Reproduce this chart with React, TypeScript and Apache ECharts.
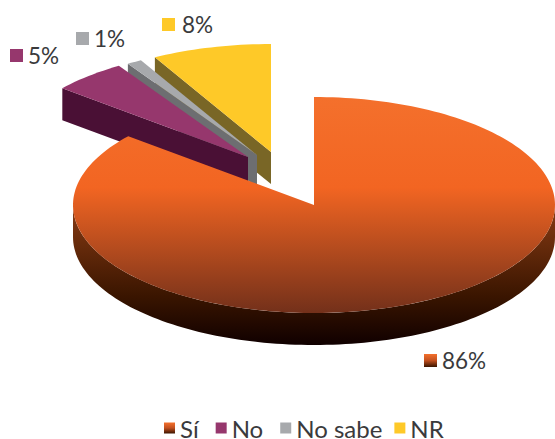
import React, { useEffect, useRef } from "react";
import * as echarts from "echarts";

const categories = ["Sí", "No", "No sabe", "NR"];
const values = [86, 5, 1, 8];
const topColors: any[] = [
  new echarts.graphic.LinearGradient(0, 0, 0, 1, [
    { offset: 0, color: "#f4702c" },
    { offset: 0.42, color: "#f26522" },
    { offset: 1, color: "#73301a" },
  ]),
  "#96376d",
  "#a7a9ac",
  "#fec928",
];
const wallColors: any[] = [
  new echarts.graphic.LinearGradient(0, 0, 0, 1, [
    { offset: 0, color: "#8a3c14" },
    { offset: 0.65, color: "#3a1500" },
    { offset: 1, color: "#100000" },
  ]),
  "#4a1035",
  "#6d6e71",
  "#796626",
];
const legendColors: any[] = [
  new echarts.graphic.LinearGradient(0, 0, 0, 1, [
    { offset: 0, color: "#f4702c" },
    { offset: 0.5, color: "#c2501f" },
    { offset: 1, color: "#3a1500" },
  ]),
  "#96376d",
  "#a7a9ac",
  "#fec928",
];

// layout of the drawing
const apexes = [
  [314, 205],
  [248, 157],
  [257, 155],
  [271, 152],
];
const labelAnchors = [
  [424, 354],
  [10, 49],
  [76, 32],
  [162, 18],
];
const labelOffsets = [18, 18, 18, 20];
const legendRightPads = [5, 5, 0, 0];
const RX = 241;
const RY = 108;
const DEPTH = 32;
const FONT = "Lato";
const total = values.reduce((a, b) => a + b, 0);
const starts = values.map((_, i) => (values.slice(0, i).reduce((a, b) => a + b, 0) / total) * 360);

const pt = (c: number[], deg: number, dy = 0) => {
  const t = (deg * Math.PI) / 180;
  return [c[0] + RX * Math.sin(t), c[1] - RY * Math.cos(t) + dy];
};
const arc = (c: number[], a: number, b: number, dy = 0) => {
  const n = Math.max(2, Math.ceil(Math.abs(b - a) / 1.5));
  const out: number[][] = [];
  for (let k = 0; k <= n; k++) out.push(pt(c, a + ((b - a) * k) / n, dy));
  return out;
};

const makeRender = (i: number) => (_p: any, api: any) => {
  const sweep = (api.value(0) / total) * 360;
  const a = starts[i];
  const b = a + sweep;
  const c = apexes[i];
  const children: any[] = [];
  if (i === 0) {
    const front = arc(c, Math.max(a, 90), Math.min(b, 270));
    const back = arc(c, Math.max(a, 90), Math.min(b, 270), DEPTH).reverse();
    children.push({
      type: "polygon",
      shape: { points: [...front, ...back] },
      style: { fill: wallColors[i] },
    });
  } else {
    const e = pt(c, a);
    const e2 = pt(c, a, DEPTH);
    children.push({
      type: "polygon",
      shape: { points: [e, c, [c[0], c[1] + DEPTH], e2] },
      style: { fill: wallColors[i] },
    });
  }
  children.push({
    type: "polygon",
    shape: { points: [c, ...arc(c, a, b)] },
    style: { fill: topColors[i] },
  });
  const [lx, ly] = labelAnchors[i];
  children.push({
    type: "rect",
    shape: { x: lx, y: ly, width: 13, height: 13 },
    style: { fill: legendColors[i] },
  });
  children.push({
    type: "text",
    x: lx + labelOffsets[i],
    y: ly + 6,
    style: {
      text: `${api.value(0)}%`,
      font: `22.5px ${FONT}`,
      fill: "#3a3a3c",
      verticalAlign: "middle",
      align: "left",
    },
  });
  return { type: "group", children };
};

export default function App() {
  const ref = useRef<HTMLDivElement>(null);
  useEffect(() => {
    const chart = echarts.init(ref.current!, undefined, { renderer: "svg" });
    chart.setOption({
      animation: false,
      backgroundColor: "#ffffff",
      legend: {
        data: categories.map((name, i) => ({
          name,
          textStyle: {
            fontFamily: FONT,
            fontSize: 24,
            lineHeight: 16,
            color: "#3a3a3c",
            padding: [0, legendRightPads[i], 0, 0],
          },
        })),
        left: 164,
        top: 416,
        icon: "rect",
        itemWidth: 11,
        itemHeight: 11,
        itemGap: 12,
        padding: 0,
        selectedMode: false,
      },
      series: [3, 2, 1, 0].map((i) => ({
        type: "custom",
        name: categories[i],
        coordinateSystem: "none",
        itemStyle: { color: legendColors[i] },
        data: [values[i]],
        renderItem: makeRender(i),
        silent: true,
      })),
    });
    return () => chart.dispose();
  }, []);
  return <div ref={ref} style={{ position: "fixed", left: 0, top: 0, width: 555, height: 439 }} />;
}
